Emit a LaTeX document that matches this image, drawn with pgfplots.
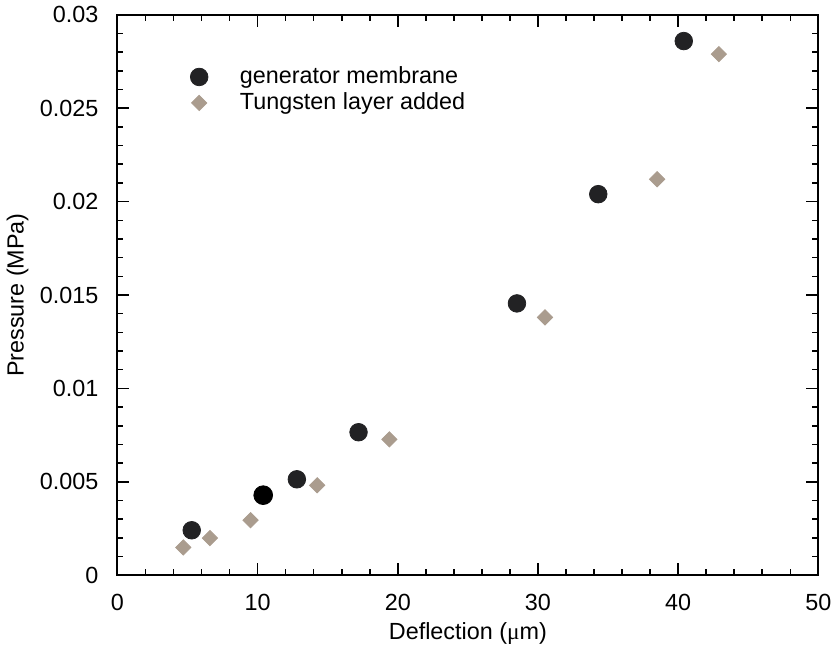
\documentclass[border=0pt]{standalone}
\usepackage{pgfplots}
\pgfplotsset{compat=1.18}
\usepackage{fontspec}
\setmainfont{Liberation Sans}
\newfontfamily\serif{Liberation Serif}
\definecolor{circ}{RGB}{34,34,36}
\definecolor{diam}{RGB}{170,156,142}
\begin{document}
\begin{tikzpicture}
\begin{axis}[
    scale only axis,
    width=351pt, height=280.5pt,
    xmin=0, xmax=50, ymin=0, ymax=0.03,
    xtick={0,10,...,50},
    ytick={0,0.005,...,0.03},
    minor tick num=4,
    tick align=inside,
    major tick length=6pt,
    minor tick length=3pt,
    every tick/.style={black, line width=0.8pt},
    axis line style={line width=1pt},
    scaled y ticks=false,
    yticklabel style={/pgf/number format/fixed, /pgf/number format/precision=3, xshift=-6pt},
    xticklabel style={yshift=-6pt},
    /pgf/number format/assume math mode=true,
    font=\fontsize{11.7}{14}\selectfont,
    xlabel={Deflection ({\serif μ}m)},
    ylabel={Pressure (MPa)},
    every axis x label/.style={at={(axis description cs:0.5,-0.105)}, anchor=center},
    every axis y label/.style={at={(axis description cs:-0.1425,0.5)}, rotate=90, anchor=center},
    legend style={draw=none, fill=none, at={(0.095,0.922)}, anchor=north west,
        row sep=-1pt, font=\fontsize{11.7}{14}\selectfont,
        /tikz/every odd column/.append style={column sep=14pt}},
    legend cell align=left,
]
\addplot[only marks, mark=*, mark size=4.4pt, mark options={fill=circ, draw=circ}]
  coordinates {
    (5.3, 0.0024)
    (12.8, 0.00513)
    (17.2, 0.00765)
    (28.5, 0.01455)
    (34.3, 0.0204)
    (40.4, 0.0286)
  };
\addlegendentry{generator membrane}
\addplot[only marks, mark=square*, mark size=2.7pt, mark options={fill=diam, draw=diam, rotate=45}]
  coordinates {
    (4.7, 0.00148)
    (6.6, 0.00198)
    (9.5, 0.00294)
    (14.25, 0.00481)
    (19.4, 0.00727)
    (30.5, 0.0138)
    (38.5, 0.0212)
    (42.9, 0.0279)
  };
\addlegendentry{Tungsten layer added}
\addplot[forget plot, only marks, mark=*, mark size=4.7pt, mark options={fill=black, draw=black}]
  coordinates {
    (10.4, 0.00428)
  };
\end{axis}
\end{tikzpicture}
\end{document}
